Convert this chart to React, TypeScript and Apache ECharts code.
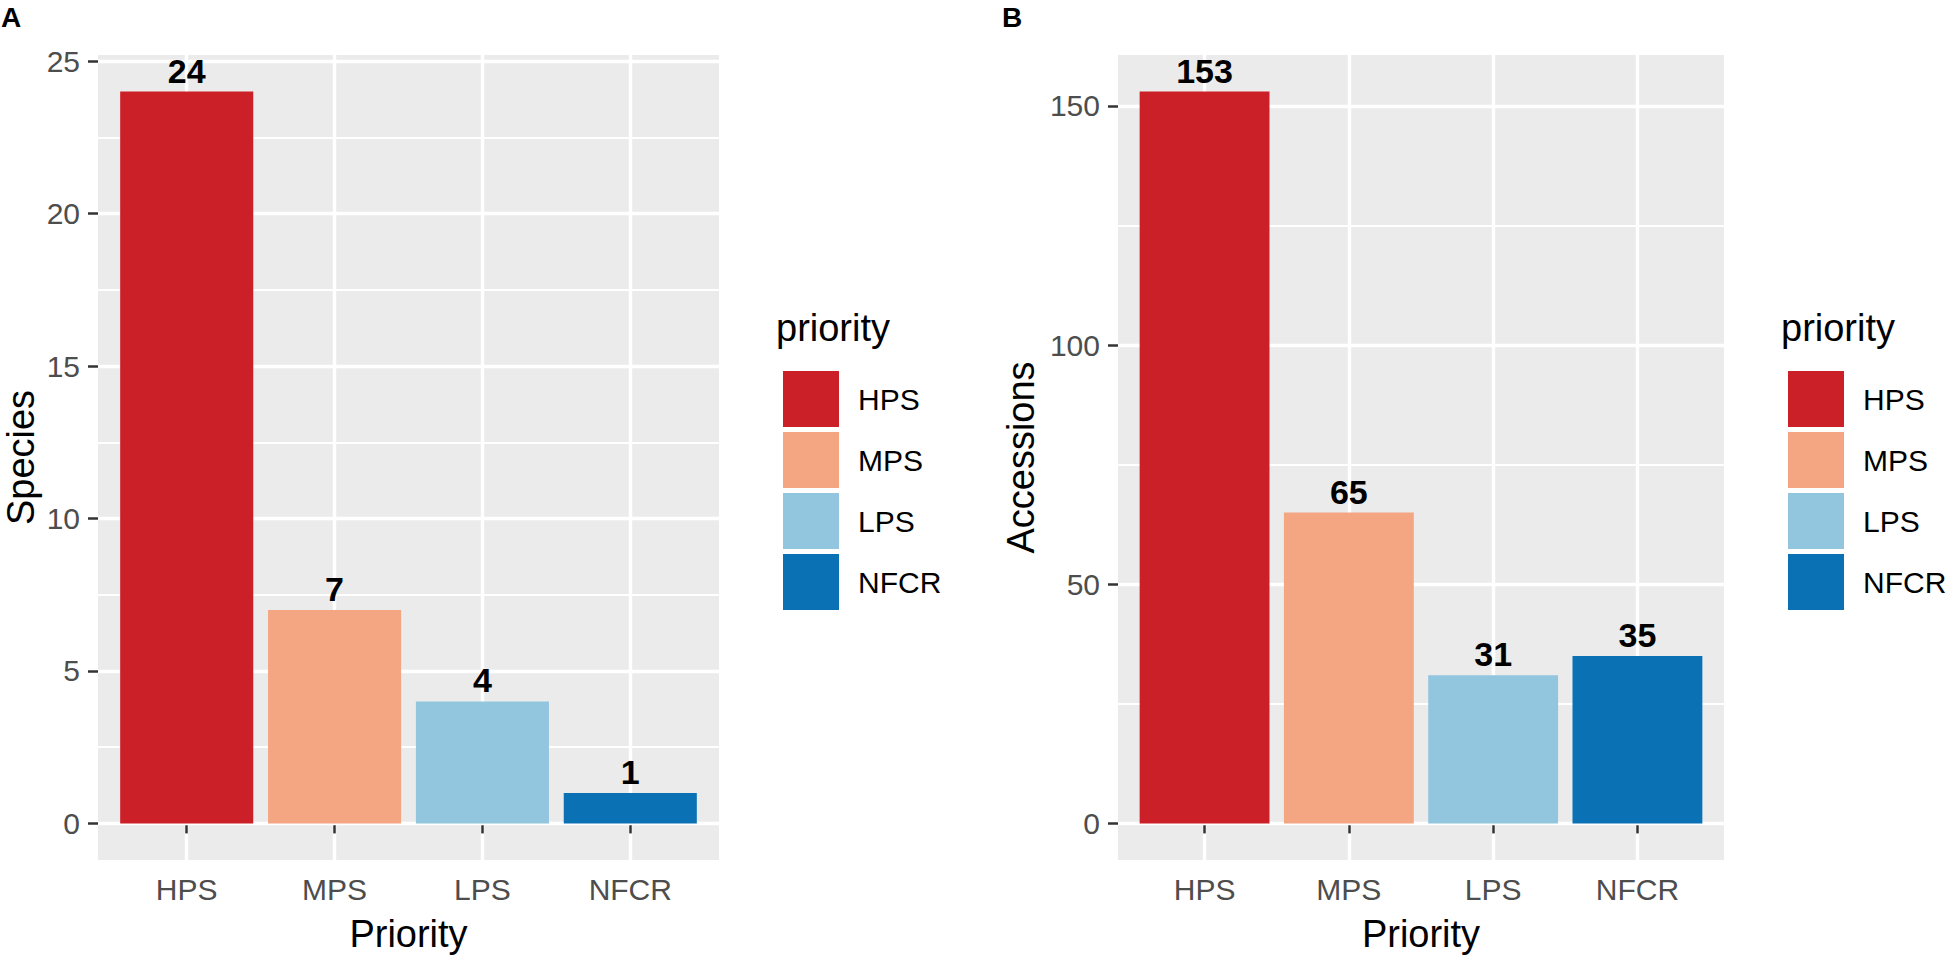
import React, { useEffect, useRef } from "react";
import * as echarts from "echarts";

const categories = ["HPS", "MPS", "LPS", "NFCR"];
const colors = ["#CB2027", "#F4A683", "#92C5DE", "#0A71B4"];
const speciesValues = [24, 7, 4, 1];
const accessionValues = [153, 65, 31, 35];
const speciesTicks = [0, 5, 10, 15, 20, 25];
const accessionTicks = [0, 50, 100, 150];

const FONT = "'Liberation Sans', Arial, Helvetica, sans-serif";
const W = 1949;
const H = 958;

function minorOf(ticks: number[], lo: number, hi: number) {
  const step = ticks[1] - ticks[0];
  const out: number[] = [];
  for (let i = -1; i < ticks.length; i++) {
    const v = (i < 0 ? ticks[0] - step : ticks[i]) + step / 2;
    if (v > lo && v < hi) out.push(v);
  }
  return out;
}

type Panel = {
  values: number[];
  ticks: number[];
  yName: string;
  left: number;
  width: number;
  nameGap: number;
};

const panels: Panel[] = [
  { values: speciesValues, ticks: speciesTicks, yName: "Species", left: 98, width: 621, nameGap: 58 },
  { values: accessionValues, ticks: accessionTicks, yName: "Accessions", left: 1118, width: 606, nameGap: 78 },
];

const TOP = 55;
const BOTTOM = 863;

function buildOption() {
  const grid: any[] = [];
  const xAxis: any[] = [];
  const yAxis: any[] = [];
  const series: any[] = [];
  const legend: any[] = [];
  const graphic: any[] = [];

  panels.forEach((p, pi) => {
    const maxV = Math.max(...p.values);
    const yMin = -0.05 * maxV;
    const yMax = 1.05 * maxV;
    grid.push({
      left: p.left,
      top: TOP,
      width: p.width,
      height: BOTTOM - TOP,
      show: true,
      backgroundColor: "#EBEBEB",
      borderWidth: 0,
      containLabel: false,
    });
    xAxis.push({
      type: "value",
      gridIndex: pi,
      min: 0.4,
      max: categories.length + 0.6,
      axisLine: { show: false },
      axisTick: {
        show: true,
        length: 10,
        customValues: categories.map((_, i) => i + 1),
        lineStyle: { color: "#333333", width: 2.5 },
      },
      axisLabel: {
        show: true,
        customValues: categories.map((_, i) => i + 1),
        formatter: (v: number) => categories[Math.round(v) - 1] ?? "",
        fontSize: 30,
        fontFamily: FONT,
        color: "#4D4D4D",
        margin: 14,
      },
      splitLine: { show: true, lineStyle: { color: "#FFFFFF", width: 3.4 } },
      name: "Priority",
      nameLocation: "middle",
      nameGap: 55,
      nameTextStyle: { fontSize: 38, fontFamily: FONT, color: "#000000" },
    });
    yAxis.push({
      type: "value",
      gridIndex: pi,
      min: yMin,
      max: yMax,
      axisLine: { show: false },
      axisTick: {
        show: true,
        length: 10,
        customValues: p.ticks,
        lineStyle: { color: "#333333", width: 2.5 },
      },
      axisLabel: {
        show: true,
        customValues: p.ticks,
        fontSize: 30,
        fontFamily: FONT,
        color: "#4D4D4D",
        margin: 18,
      },
      splitLine: { show: true, lineStyle: { color: "#FFFFFF", width: 3.4 } },
      name: p.yName,
      nameLocation: "middle",
      nameRotate: 90,
      nameGap: p.nameGap,
      nameTextStyle: { fontSize: 38, fontFamily: FONT, color: "#000000" },
      z: 1,
    });
    const minor = minorOf(p.ticks, yMin, yMax);
    yAxis.push({
      type: "value",
      gridIndex: pi,
      min: yMin,
      max: yMax,
      position: "left",
      axisLine: { show: false },
      axisTick: { show: false, customValues: minor },
      axisLabel: { show: false, customValues: minor },
      splitLine: { show: true, lineStyle: { color: "#FFFFFF", width: 1.8 } },
      z: 0,
    });
    categories.forEach((c, ci) => {
      series.push({
        type: "bar",
        name: c,
        xAxisIndex: pi,
        yAxisIndex: pi * 2,
        data: [[ci + 1, p.values[ci]]],
        barWidth: "90%",
        barGap: "-100%",
        itemStyle: { color: colors[ci] },
        label: {
          show: true,
          position: "top",
          distance: 4,
          fontSize: 34,
          fontWeight: "bold",
          fontFamily: FONT,
          color: "#000000",
          formatter: (prm: any) => String(prm.value[1]),
        },
        emphasis: { disabled: true },
      });
    });
    const legLeft = p.left + p.width + 59;
    legend.push({
      orient: "vertical",
      left: legLeft,
      top: 366,
      itemWidth: 56,
      itemHeight: 56,
      itemGap: 5,
      icon: "rect",
      selectedMode: false,
      data: categories,
      textStyle: {
        fontSize: 30,
        fontFamily: FONT,
        color: "#000000",
        padding: [0, 0, 0, 14],
      },
    });
    graphic.push({
      type: "text",
      left: legLeft - 2,
      top: 309,
      style: { text: "priority", fontSize: 38, fontFamily: FONT, fill: "#000000" },
    });
    graphic.push({
      type: "text",
      left: pi === 0 ? 1 : 1002,
      top: 3,
      style: { text: pi === 0 ? "A" : "B", fontSize: 28, fontWeight: "bold", fontFamily: FONT, fill: "#000000" },
    });
  });

  return {
    animation: false,
    backgroundColor: "#FFFFFF",
    textStyle: { fontFamily: FONT },
    grid,
    xAxis,
    yAxis,
    series,
    legend,
    graphic,
  };
}

export default function App() {
  const ref = useRef<HTMLDivElement>(null);
  useEffect(() => {
    document.body.style.margin = "0";
    const chart = echarts.init(ref.current!, null, { renderer: "svg", width: W, height: H });
    chart.setOption(buildOption());
    return () => chart.dispose();
  }, []);
  return <div ref={ref} style={{ width: W, height: H, position: "absolute", left: 0, top: 0 }} />;
}
